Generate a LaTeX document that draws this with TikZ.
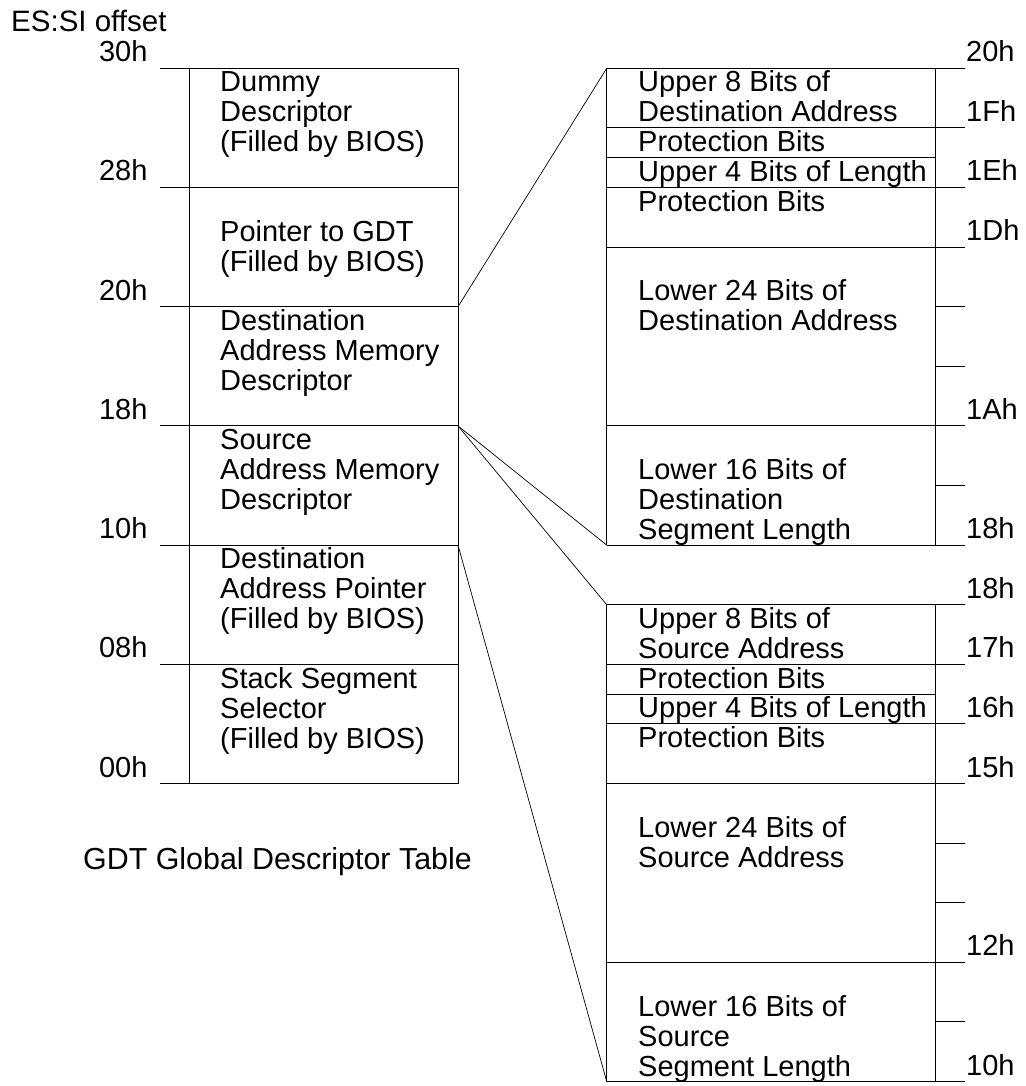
\documentclass[tikz,border=0pt]{standalone}
\usepackage{fontspec}
\setmainfont{Liberation Sans}
\begin{document}
\begin{tikzpicture}[x=1pt,y=-1pt,
  ln/.style={draw=black,line width=0.9pt},
  conn/.style={draw=black,line width=0.7pt},
  txt/.style={anchor=north west,inner sep=0pt,align=left,font=\fontsize{29}{30}\selectfont},
  lbll/.style={anchor=base east,inner sep=0pt,font=\fontsize{29}{30}\selectfont},
  lblr/.style={anchor=base west,inner sep=0pt,font=\fontsize{29}{30}\selectfont}]
\useasboundingbox (0,0) rectangle (1025,1086);
\newcommand{\fs}{\rule{0pt}{23.5pt}}
% ---------- left table (GDT) ----------
\draw[ln] (189,68.3) -- (189,783.5);
\draw[ln] (458,68.3) -- (458,783.5);
\foreach \k/\t in {0/30h,2/28h,4/20h,6/18h,8/10h,10/08h,12/00h}{
  \pgfmathsetmacro{\yy}{68.3+59.6*\k}
  \draw[ln] (160,\yy) -- (458,\yy);
  \node[lbll] (gl\k) at (147.7,\yy-6.5) {\t};
}
\node[txt] (g0) at (220,68.3) {\fs Dummy\\Descriptor\\(Filled by BIOS)};
\node[txt] (g1) at (220,187.5) {\fs\\Pointer to GDT\\(Filled by BIOS)};
\node[txt] (g2) at (220,306.7) {\fs Destination\\Address Memory\\Descriptor};
\node[txt] (g3) at (220,425.9) {\fs Source\\Address Memory\\Descriptor};
\node[txt] (g4) at (220,545.1) {\fs Destination\\Address Pointer\\(Filled by BIOS)};
\node[txt] (g5) at (220,664.3) {\fs Stack Segment\\Selector\\(Filled by BIOS)};
\node[anchor=base west,inner sep=0pt,font=\fontsize{29.5}{32}\selectfont] (title) at (11,31.7) {ES:SI offset};
\node[anchor=base west,inner sep=0pt,font=\fontsize{30.4}{32}\selectfont] (caption) at (83,869) {GDT Global Descriptor Table};
% ---------- right tables ----------
\foreach \o/\p in {0/d,9/s}{
  \pgfmathsetmacro{\ya}{68.3+59.6*\o}
  \pgfmathsetmacro{\yb}{68.3+59.6*(\o+8)}
  \draw[ln] (606.7,\ya) -- (606.7,\yb);
  \draw[ln] (935,\ya) -- (935,\yb);
  \foreach \k in {0,1,2,3,6,8}{
    \pgfmathsetmacro{\yy}{68.3+59.6*(\o+\k)}
    \draw[ln] (606.7,\yy) -- (965,\yy);
  }
  \pgfmathsetmacro{\yy}{68.3+59.6*(\o+1.5)}
  \draw[ln] (606.7,\yy) -- (935,\yy);
  \foreach \k in {4,5,7}{
    \pgfmathsetmacro{\yy}{68.3+59.6*(\o+\k)}
    \draw[ln] (935,\yy) -- (965,\yy);
  }
}
\foreach \k/\t in {0/20h,1/1Fh,2/1Eh,3/1Dh,6/1Ah,8/18h,9/18h,10/17h,11/16h,12/15h,15/12h,17/10h}{
  \pgfmathsetmacro{\yy}{68.3+59.6*\k}
  \node[lblr] (rl\k) at (966,\yy-6.5) {\t};
}
% destination descriptor
\node[txt] (d0) at (638,68.3) {\fs Upper 8 Bits of\\Destination Address};
\node[txt] (d1) at (638,127.9) {\fs Protection Bits};
\node[txt] (d2) at (638,157.7) {\fs Upper 4 Bits of Length};
\node[txt] (d3) at (638,187.5) {\fs Protection Bits};
\node[txt] (d4) at (638,247.1) {\fs\\Lower 24 Bits of\\Destination Address};
\node[txt] (d5) at (638,425.9) {\fs\\Lower 16 Bits of\\Destination\\Segment Length};
% source descriptor
\node[txt] (s0) at (638,604.7) {\fs Upper 8 Bits of\\Source Address};
\node[txt] (s1) at (638,664.3) {\fs Protection Bits};
\node[txt] (s2) at (638,694.1) {\fs Upper 4 Bits of Length};
\node[txt] (s3) at (638,723.9) {\fs Protection Bits};
\node[txt] (s4) at (638,783.5) {\fs\\Lower 24 Bits of\\Source Address};
\node[txt] (s5) at (638,962.3) {\fs\\Lower 16 Bits of\\Source\\Segment Length};
% ---------- connectors ----------
\coordinate (gdtDst) at (458,306.7);
\coordinate (gdtSrc) at (458,425.9);
\coordinate (gdtPtr) at (458,545.1);
\coordinate (dTop) at (606.7,68.3);
\coordinate (dBot) at (606.7,545.1);
\coordinate (sTop) at (606.7,604.7);
\coordinate (sBot) at (606.7,1081.5);
\draw[conn] (gdtDst) -- (dTop);
\draw[conn] (gdtSrc) -- (dBot);
\draw[conn] (gdtSrc) -- (sTop);
\draw[conn] (gdtPtr) -- (sBot);
\end{tikzpicture}
\end{document}
